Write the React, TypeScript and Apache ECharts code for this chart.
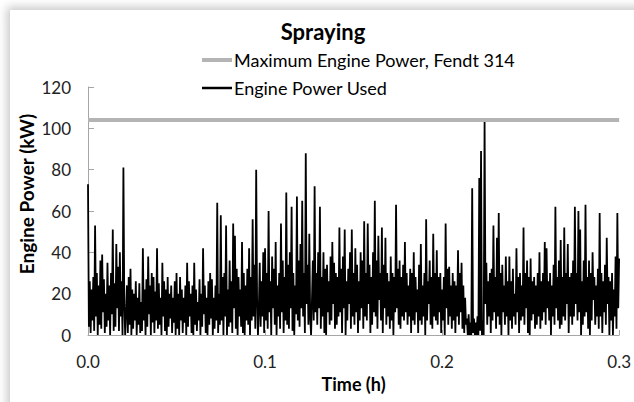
import React, { useEffect, useRef } from "react";
import * as echarts from "echarts";

const TITLE = "Spraying";
const MAX_POWER_NAME = "Maximum Engine Power, Fendt 314";
const USED_POWER_NAME = "Engine Power Used";
const X_AXIS_NAME = "Time (h)";
const Y_AXIS_NAME = "Engine Power (kW)";

// Maximum engine power (kW), constant line across the time span
const maxPowerTimes = [0, 0.3];
const maxPowerValues = [104, 104];

// Sampling interval of the logged engine power (h)
const SAMPLE_STEP_H = 0.0005;

// Engine power used (kW), one value per sample
const powerUsed = [
  73, 4, 26, 1, 22, 7, 28, 2, 53, 9,
  30, 0, 24, 5, 36, 3, 39, 11, 27, 1,
  20, 4, 35, 7, 24, 0, 30, 10, 51, 2,
  25, 4, 44, 13, 33, 2, 40, 9, 26, 0,
  81, 15, 0, 12, 24, 1, 28, 5, 32, 0,
  22, 3, 20, 7, 26, 0, 18, 5, 25, 1,
  16, 2, 42, 7, 22, 0, 27, 4, 38, 10,
  24, 0, 30, 6, 28, 1, 21, 7, 42, 3,
  25, 5, 18, 0, 35, 9, 26, 2, 22, 0,
  28, 4, 20, 8, 24, 1, 18, 6, 26, 0,
  30, 3, 20, 0, 28, 7, 22, 1, 18, 6,
  24, 0, 35, 4, 26, 9, 20, 1, 24, 0,
  35, 5, 22, 2, 16, 7, 27, 0, 20, 4,
  42, 10, 24, 1, 18, 0, 26, 5, 30, 8,
  27, 0, 18, 3, 24, 7, 64, 1, 20, 5,
  58, 7, 28, 0, 30, 9, 53, 0, 22, 4,
  36, 6, 26, 1, 54, 13, 48, 3, 32, 0,
  28, 9, 22, 4, 45, 1, 30, 0, 24, 7,
  32, 5, 42, 0, 28, 7, 56, 9, 34, 3,
  80, 17, 0, 13, 35, 4, 26, 9, 40, 1,
  42, 7, 30, 3, 60, 11, 26, 0, 38, 13,
  32, 5, 45, 0, 24, 9, 30, 3, 54, 11,
  36, 1, 28, 7, 69, 5, 34, 3, 40, 13,
  62, 2, 30, 0, 24, 10, 67, 7, 36, 4,
  44, 13, 65, 9, 30, 1, 88, 15, 34, 5,
  49, 9, 0, 17, 36, 7, 72, 11, 30, 5,
  40, 13, 62, 3, 28, 9, 40, 1, 32, 0,
  34, 11, 26, 5, 38, 7, 45, 15, 35, 3,
  30, 5, 28, 9, 52, 11, 32, 1, 38, 13,
  51, 0, 26, 7, 32, 15, 40, 3, 51, 9,
  30, 5, 42, 11, 34, 1, 26, 7, 40, 13,
  36, 3, 55, 9, 30, 7, 54, 15, 34, 1,
  28, 5, 40, 11, 65, 9, 36, 3, 48, 17,
  30, 7, 52, 1, 34, 13, 47, 5, 30, 9,
  26, 3, 38, 7, 30, 0, 28, 11, 63, 13,
  32, 5, 36, 3, 28, 9, 34, 7, 45, 11,
  30, 5, 24, 9, 32, 1, 30, 7, 40, 5,
  28, 11, 22, 1, 34, 7, 44, 5, 24, 9,
  30, 0, 56, 7, 26, 15, 36, 5, 28, 3,
  49, 9, 30, 7, 41, 5, 28, 11, 30, 1,
  22, 7, 28, 0, 54, 13, 32, 5, 33, 9,
  24, 3, 30, 7, 26, 1, 24, 9, 41, 5,
  30, 11, 35, 3, 24, 1, 18, 5, 8, 0,
  10, 0, 6, 0, 71, 1, 8, 0, 6, 0,
  9, 0, 76, 2, 89, 0, 7, 0, 104, 15,
  35, 5, 26, 9, 30, 1, 32, 7, 53, 11,
  28, 3, 47, 9, 59, 5, 30, 0, 34, 11,
  24, 5, 38, 9, 26, 0, 38, 7, 26, 3,
  32, 9, 20, 5, 42, 11, 28, 1, 30, 7,
  24, 9, 52, 5, 30, 13, 36, 1, 28, 0,
  37, 7, 26, 10, 28, 3, 24, 5, 30, 9,
  40, 3, 26, 7, 30, 11, 45, 5, 42, 13,
  26, 7, 30, 0, 24, 9, 34, 5, 62, 13,
  28, 7, 36, 3, 46, 5, 28, 9, 52, 7,
  30, 15, 44, 1, 28, 9, 30, 5, 36, 9,
  62, 15, 30, 7, 60, 11, 51, 0, 26, 5,
  36, 9, 63, 11, 28, 3, 36, 0, 30, 7,
  40, 17, 28, 5, 24, 9, 32, 3, 59, 9,
  30, 1, 26, 11, 34, 5, 47, 15, 28, 0,
  26, 7, 30, 0, 22, 9, 38, 3, 59, 13,
  37,
];

const X_MIN = 0;
const X_MAX = 0.3;
const X_STEP = 0.1;
const Y_MIN = 0;
const Y_MAX = 120;
const Y_STEP = 20;

const FONT = "Lato, 'Open Sans', sans-serif";

export default function App() {
  const ref = useRef<HTMLDivElement>(null);

  useEffect(() => {
    document.body.style.margin = "0";
    if (!ref.current) return;
    const chart = echarts.init(ref.current, undefined, { renderer: "svg" });

    const usedData = powerUsed.map((v, i) => [i * SAMPLE_STEP_H, v]);
    const maxData = maxPowerTimes.map((t, i) => [t, maxPowerValues[i]]);

    chart.setOption({
      animation: false,
      textStyle: { fontFamily: FONT },
      title: {
        text: TITLE,
        left: 318,
        top: 15,
        textAlign: "center",
        textStyle: { fontFamily: FONT, fontSize: 22, fontWeight: "bold", color: "#000" },
      },
      legend: {
        orient: "vertical",
        left: 200,
        top: 51,
        itemGap: 10,
        itemWidth: 30,
        itemHeight: 14,
        padding: 0,
        textStyle: { fontFamily: FONT, fontSize: 18, color: "#000", padding: [0, 0, 0, -3] },
        data: [
          { name: MAX_POWER_NAME, lineStyle: { color: "#b4b4b4", width: 4 }, itemStyle: { opacity: 0 } },
          { name: USED_POWER_NAME, lineStyle: { color: "#000", width: 2.5 }, itemStyle: { opacity: 0 } },
        ],
      },
      grid: { left: 88, right: 13, top: 87, bottom: 67, containLabel: false },
      xAxis: {
        type: "value",
        min: X_MIN,
        max: X_MAX,
        interval: X_STEP,
        name: X_AXIS_NAME,
        nameLocation: "middle",
        nameGap: 40,
        nameTextStyle: { fontFamily: FONT, fontSize: 18, fontWeight: "bold", color: "#000" },
        axisLine: { show: true, lineStyle: { color: "#a6a6a6", width: 1 } },
        axisTick: { show: true, inside: true, length: 5, lineStyle: { color: "#a6a6a6" } },
        splitLine: { show: false },
        axisLabel: {
          fontFamily: FONT,
          fontSize: 17,
          color: "#222",
          margin: 18,
          formatter: (v: number) => v.toFixed(1),
        },
      },
      yAxis: {
        type: "value",
        min: Y_MIN,
        max: Y_MAX,
        interval: Y_STEP,
        axisLine: { show: true, lineStyle: { color: "#a6a6a6", width: 1 } },
        axisTick: { show: true, inside: true, length: 6, lineStyle: { color: "#a6a6a6" } },
        splitLine: { show: false },
        axisLabel: { fontFamily: FONT, fontSize: 17, color: "#222", margin: 17 },
      },
      graphic: [
        {
          type: "text",
          x: 26,
          y: 194,
          rotation: Math.PI / 2,
          style: {
            text: Y_AXIS_NAME,
            font: `bold 19px ${FONT}`,
            fill: "#000",
            align: "center",
            verticalAlign: "middle",
          },
        },
      ],
      series: [
        {
          name: MAX_POWER_NAME,
          type: "line",
          data: maxData,
          symbol: "none",
          lineStyle: { color: "#b4b4b4", width: 4 },
          itemStyle: { color: "#b4b4b4" },
          z: 3,
        },
        {
          name: USED_POWER_NAME,
          type: "line",
          data: usedData,
          symbol: "none",
          lineStyle: { color: "#000", width: 1.8, join: "miter", miterLimit: 2 },
          itemStyle: { color: "#000" },
          z: 2,
        },
      ],
    });

    return () => chart.dispose();
  }, []);

  return (
    <div style={{ position: "fixed", left: 0, top: 0, width: 634, height: 402, background: "#fff", overflow: "hidden" }}>
      <div
        style={{
          position: "absolute",
          left: 10,
          top: 10,
          width: 660,
          height: 420,
          background: "#fff",
          boxShadow: "-3px -3px 9px rgba(0,0,0,0.22)",
        }}
      />
      <div ref={ref} style={{ position: "absolute", left: 0, top: 0, width: 634, height: 402 }} />
    </div>
  );
}
